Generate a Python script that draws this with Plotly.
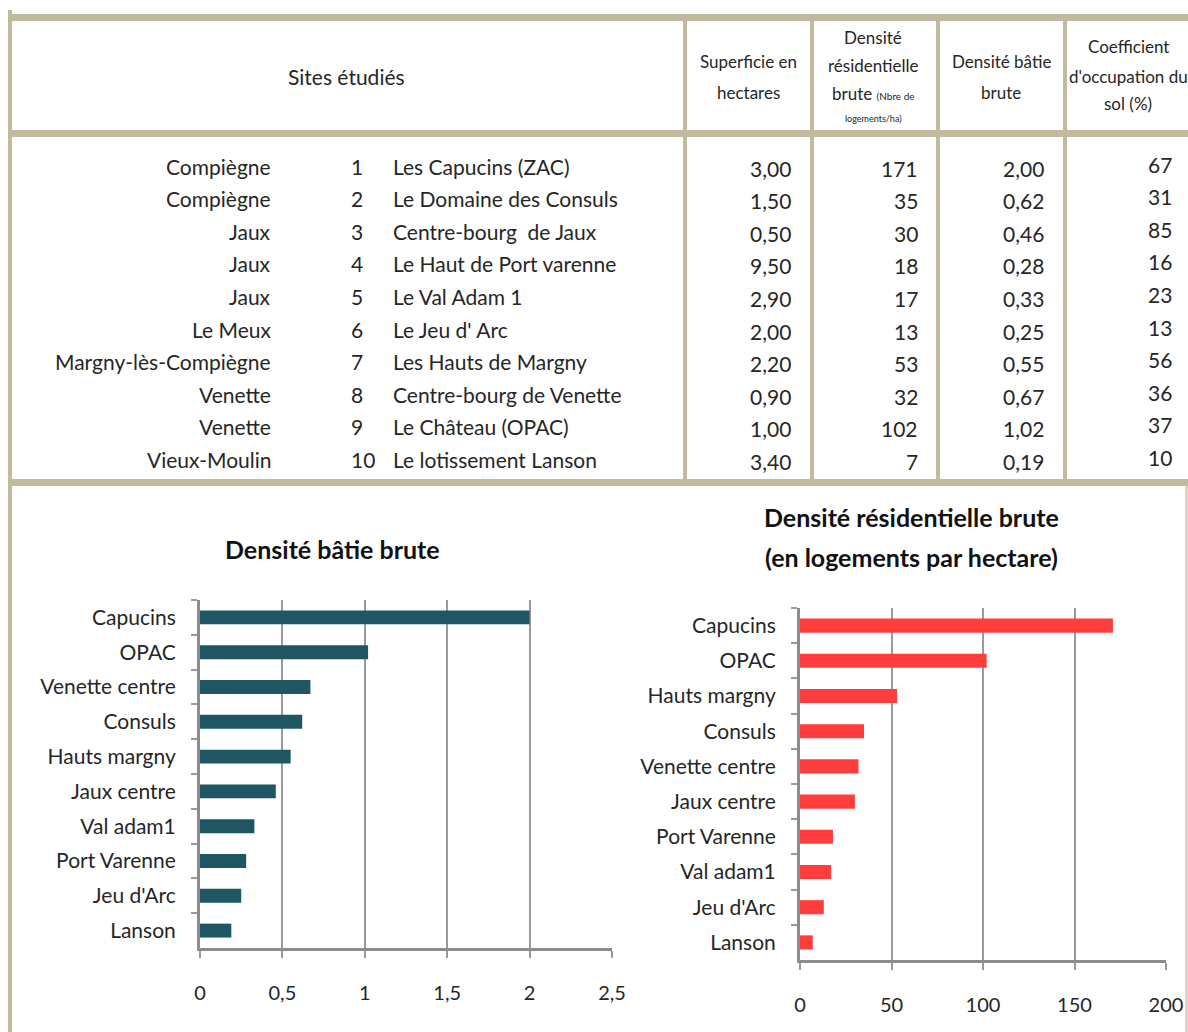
import plotly.graph_objects as go

W, H = 1188, 1032
FONT = "Lato"
TXT = "#262626"
BORDER = "#C2BA9E"

# ---------------- Data ----------------
communes = ["Compiègne", "Compiègne", "Jaux", "Jaux", "Jaux", "Le Meux",
            "Margny-lès-Compiègne", "Venette", "Venette", "Vieux-Moulin"]
numeros = ["1", "2", "3", "4", "5", "6", "7", "8", "9", "10"]
sites = ["Les Capucins (ZAC)", "Le Domaine des Consuls", "Centre-bourg  de Jaux",
         "Le Haut de Port varenne", "Le Val Adam 1", "Le Jeu d' Arc",
         "Les Hauts de Margny", "Centre-bourg de Venette", "Le Château (OPAC)",
         "Le lotissement Lanson"]
superficie = ["3,00", "1,50", "0,50", "9,50", "2,90", "2,00", "2,20", "0,90", "1,00", "3,40"]
dens_resid = ["171", "35", "30", "18", "17", "13", "53", "32", "102", "7"]
dens_batie = ["2,00", "0,62", "0,46", "0,28", "0,33", "0,25", "0,55", "0,67", "1,02", "0,19"]
cos = ["67", "31", "85", "16", "23", "13", "56", "36", "37", "10"]

batie_labels = ["Capucins", "OPAC", "Venette centre", "Consuls", "Hauts margny",
                "Jaux centre", "Val adam1", "Port Varenne", "Jeu d'Arc", "Lanson"]
batie_values = [2.00, 1.02, 0.67, 0.62, 0.55, 0.46, 0.33, 0.28, 0.25, 0.19]

resid_labels = ["Capucins", "OPAC", "Hauts margny", "Consuls", "Venette centre",
                "Jaux centre", "Port Varenne", "Val adam1", "Jeu d'Arc", "Lanson"]
resid_values = [171, 102, 53, 35, 32, 30, 18, 17, 13, 7]

# ---------------- helpers ----------------
def px(x):
    return x / W

def py(y):
    return 1 - y / H

shapes = []
def rect(x0, y0, x1, y1, color=BORDER):
    shapes.append(dict(type="rect", xref="paper", yref="paper",
                       x0=px(x0), x1=px(x1), y0=py(y1), y1=py(y0),
                       fillcolor=color, line=dict(width=0), layer="below"))

annotations = []
def text(t, x, y, size=21, anchor="center", bold=False, color=TXT):
    annotations.append(dict(text=t, x=px(x), y=py(y), xref="paper", yref="paper",
                            xanchor=anchor, yanchor="middle", showarrow=False,
                            font=dict(family=FONT, size=size, color=color,
                                      weight="bold" if bold else "normal")))

# ---------------- table frame ----------------
rect(8, 10, 12, H)            # left vertical
rect(12, 14, W, 21)           # top
rect(12, 130, W, 137)         # header separator
rect(12, 479, W, 486)         # bottom of table
for cx in (683, 810, 936, 1063):
    rect(cx, 21, cx + 4, 479)
rect(1185, 486, 1188, H, "#DAD5C5")  # right edge of chart area

# ---------------- table header ----------------
HS = 17
text("Sites étudiés", 347, 76, 21)
text("Superficie en", 748, 62, HS)
text("hectares", 748, 92, HS)
text("Densité", 873, 38, HS)
text("résidentielle", 873, 65, HS)
text("brute <span style='font-size:10px'>(Nbre de</span>", 873, 94, HS)
text("logements/ha)", 873, 119, 9)
text("Densité bâtie", 1001, 62, HS)
text("brute", 1001, 92, HS)
text("Coefficient", 1128, 47, HS)
text("d'occupation du", 1128, 76, HS)
text("sol (%)", 1128, 104, HS)

# ---------------- table rows ----------------
y0, step = 166, 32.6
for i in range(len(communes)):
    y = y0 + i * step
    text(communes[i], 273, y, 21, "right")
    text(numeros[i], 349, y, 21, "left")
    text(sites[i], 391, y, 21, "left")
    text(superficie[i], 793, y + 2, 21, "right")
    text(dens_resid[i], 920, y + 2, 21, "right")
    text(dens_batie[i], 1046, y + 2, 21, "right")
    text(cos[i], 1174, y - 2, 21, "right")

# ---------------- chart titles ----------------
text("Densité bâtie brute", 332, 549, 25, bold=True, color="#111111")
text("Densité résidentielle brute", 912, 517, 25, bold=True, color="#111111")
text("(en logements par hectare)", 912, 557, 25, bold=True, color="#111111")

# ---------------- bar charts ----------------
fig = go.Figure()
fig.add_trace(go.Bar(x=batie_values, y=batie_labels, orientation="h",
                     marker=dict(color="#1F5664", line=dict(width=0)),
                     width=0.4, xaxis="x", yaxis="y", showlegend=False))
fig.add_trace(go.Bar(x=resid_values, y=resid_labels, orientation="h",
                     marker=dict(color="#FF3D3D", line=dict(width=0)),
                     width=0.4, xaxis="x2", yaxis="y2", showlegend=False))

xcommon = dict(showgrid=True, gridcolor="#9A9A9A", gridwidth=2,
               showline=True, linecolor="#8C8C8C", linewidth=3,
               ticks="outside", ticklen=7, tickwidth=2, tickcolor="#9A9A9A",
               tickfont=dict(family=FONT, size=20, color=TXT),
               ticklabelstandoff=18, zeroline=False, fixedrange=True)
ycommon = dict(type="category", autorange="reversed", tickson="boundaries",
               showline=True, linecolor="#8C8C8C", linewidth=3,
               ticks="outside", ticklen=6, tickwidth=2, tickcolor="#9A9A9A",
               tickfont=dict(family=FONT, size=21, color=TXT),
               ticklabelstandoff=17, showgrid=False, fixedrange=True)

fig.update_layout(
    width=W, height=H, autosize=False,
    margin=dict(l=0, r=0, t=0, b=0, autoexpand=False),
    paper_bgcolor="white", plot_bgcolor="white",
    separators=", ",
    font=dict(family=FONT),
    bargap=0.6,
    xaxis=dict(domain=[px(200), px(612)], range=[0, 2.5], dtick=0.5,
               anchor="y", **xcommon),
    yaxis=dict(domain=[py(948), py(600)], anchor="x", **ycommon),
    xaxis2=dict(domain=[px(800), px(1166)], range=[0, 200], dtick=50,
                anchor="y2", **xcommon),
    yaxis2=dict(domain=[py(960), py(608)], anchor="x2", **ycommon),
    shapes=shapes,
    annotations=annotations,
)

post = (
    "document.body.style.margin='0';"
    "document.body.style.overflow='hidden';"
)
fig.write_html("out.html", config={"displayModeBar": False, "responsive": False},
               post_script=post)
